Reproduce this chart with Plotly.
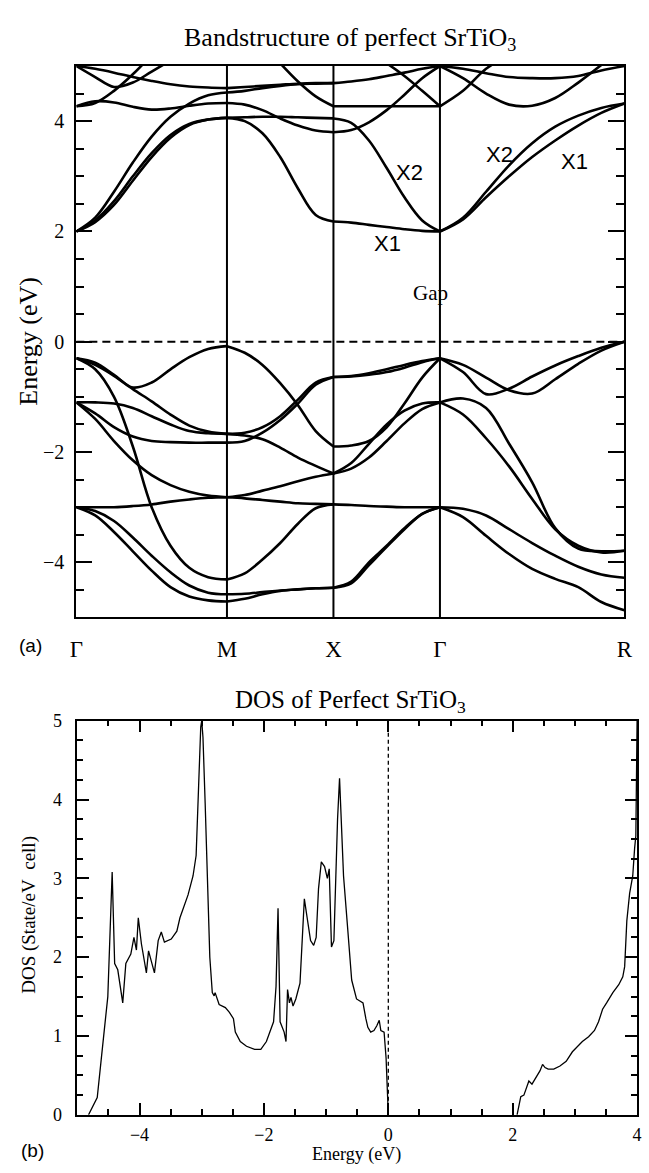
import numpy as np
import plotly.graph_objects as go

# ---------------- band structure data ----------------
sym_labels = ['Γ', 'M', 'X', 'Γ', 'R']
seg_len = [np.sqrt(2), 1.0, 1.0, np.sqrt(3)]     # Γ-M, M-X, X-Γ, Γ-R (units of π/a)
seg_pts = [9, 7, 7, 9]

# valence bands (eV), one list per band, sampled evenly along each segment
vb_GM = [
    [-0.30, -0.38, -0.60, -0.83, -0.74, -0.50, -0.28, -0.13, -0.08],
    [-0.30, -0.42, -0.62, -0.86, -1.08, -1.32, -1.52, -1.63, -1.67],
    [-0.30, -0.50, -1.00, -1.90, -3.00, -3.70, -4.10, -4.27, -4.31],
    [-1.10, -1.10, -1.12, -1.20, -1.35, -1.50, -1.62, -1.66, -1.67],
    [-1.10, -1.30, -1.55, -1.72, -1.80, -1.82, -1.83, -1.83, -1.83],
    [-1.10, -1.40, -1.80, -2.15, -2.42, -2.60, -2.72, -2.79, -2.82],
    [-3.00, -3.00, -3.00, -2.98, -2.95, -2.90, -2.86, -2.83, -2.82],
    [-3.00, -3.07, -3.25, -3.55, -3.88, -4.18, -4.42, -4.55, -4.58],
    [-3.00, -3.15, -3.45, -3.80, -4.15, -4.45, -4.62, -4.69, -4.71],
]
vb_MX = [
    [-0.08, -0.20, -0.42, -0.75, -1.15, -1.62, -1.90],
    [-1.67, -1.65, -1.55, -1.35, -1.05, -0.74, -0.64],
    [-1.83, -1.80, -1.65, -1.42, -1.12, -0.78, -0.64],
    [-1.67, -1.70, -1.77, -1.92, -2.10, -2.25, -2.39],
    [-2.82, -2.78, -2.70, -2.62, -2.53, -2.45, -2.39],
    [-2.82, -2.84, -2.87, -2.90, -2.93, -2.94, -2.95],
    [-4.31, -4.20, -3.95, -3.65, -3.30, -3.02, -2.95],
    [-4.58, -4.57, -4.54, -4.51, -4.49, -4.47, -4.46],
    [-4.71, -4.66, -4.58, -4.52, -4.49, -4.47, -4.46],
]
vb_XG = [
    [-0.64, -0.62, -0.57, -0.50, -0.42, -0.35, -0.30],
    [-0.64, -0.63, -0.60, -0.55, -0.47, -0.37, -0.30],
    [-1.90, -1.88, -1.80, -1.55, -1.12, -0.65, -0.30],
    [-2.39, -2.30, -2.10, -1.80, -1.48, -1.22, -1.10],
    [-2.39, -2.20, -1.85, -1.50, -1.25, -1.12, -1.10],
    [-2.95, -2.96, -2.98, -2.99, -3.00, -3.00, -3.00],
    [-4.46, -4.35, -4.00, -3.70, -3.38, -3.12, -3.00],
    [-4.46, -4.38, -4.05, -3.72, -3.40, -3.12, -3.00],
]
vb_GR = [
    [-0.30, -0.42, -0.65, -0.88, -0.94, -0.68, -0.40, -0.16, 0.00],
    [-0.30, -0.55, -0.95, -0.85, -0.63, -0.43, -0.26, -0.11, 0.00],
    [-1.10, -1.03, -1.20, -1.85, -2.55, -3.38, -3.75, -3.80, -3.79],
    [-1.10, -1.32, -1.75, -2.26, -2.85, -3.40, -3.70, -3.82, -3.79],
    [-3.00, -3.03, -3.15, -3.40, -3.65, -3.88, -4.08, -4.22, -4.28],
    [-3.00, -3.18, -3.52, -3.85, -4.12, -4.30, -4.45, -4.72, -4.87],
]

# conduction bands (eV)
cb_GM = [
    [2.00, 2.20, 2.55, 3.00, 3.42, 3.75, 3.95, 4.03, 4.06],
    [2.00, 2.17, 2.48, 2.92, 3.35, 3.70, 3.93, 4.03, 4.06],
    [2.00, 2.25, 2.72, 3.25, 3.72, 4.08, 4.32, 4.47, 4.52],
    [4.27, 4.33, 4.55, 4.85, 5.20, None, None, None, None],
    [4.27, 4.36, 4.34, 4.26, 4.21, 4.23, 4.28, 4.32, 4.33],
    [5.00, 4.95, 4.88, 4.80, 4.73, 4.67, 4.63, 4.61, 4.60],
    [5.00, 4.80, 4.62, 4.70, 4.90, 5.10, None, None, None],
]
cb_MX = [
    [4.06, 4.07, 4.08, 4.08, 4.07, 4.06, 4.05],
    [4.06, 4.00, 3.78, 3.35, 2.78, 2.30, 2.18],
    [4.33, 4.30, 4.20, 4.05, 3.92, 3.83, 3.80],
    [4.52, 4.55, 4.60, 4.64, 4.67, 4.68, 4.69],
    [4.60, 4.62, 4.64, 4.66, 4.68, 4.69, 4.69],
    [None, None, None, 5.05, 4.72, 4.45, 4.27],
]
cb_XG = [
    [2.18, 2.16, 2.12, 2.08, 2.04, 2.01, 2.00],
    [4.05, 3.97, 3.65, 3.15, 2.62, 2.20, 2.00],
    [3.80, 3.84, 3.98, 4.20, 4.48, 4.78, 5.00],
    [4.27, 4.27, 4.27, 4.27, 4.27, 4.27, 4.27],
    [4.69, 4.72, 4.76, 4.82, 4.88, 4.95, 5.00],
    [None, None, None, 5.05, 4.82, 4.55, 4.27],
]
cb_GR = [
    [2.00, 2.25, 2.72, 3.20, 3.60, 3.90, 4.10, 4.24, 4.32],
    [2.00, 2.22, 2.62, 3.00, 3.35, 3.65, 3.92, 4.15, 4.32],
    [4.27, 4.55, 4.95, 5.20, None, None, None, None, None],
    [5.00, 4.78, 4.50, 4.30, 4.28, 4.42, 4.70, 5.02, None],
    [5.00, 4.95, 4.87, 4.80, 4.78, 4.78, 4.82, 4.92, 5.00],
]

# ---------------- DOS data ----------------
dos_vb_E = [-4.82, -4.68, -4.57, -4.51, -4.44, -4.40, -4.35, -4.27, -4.22, -4.14,
            -4.09, -4.05, -4.02, -3.97, -3.89, -3.855, -3.76, -3.70, -3.65, -3.60,
            -3.49, -3.40, -3.35, -3.22, -3.14, -3.09, -3.05, -3.016, -3.00, -2.98,
            -2.945, -2.91, -2.87, -2.83, -2.80, -2.785, -2.72, -2.62, -2.555, -2.49,
            -2.46, -2.38, -2.28, -2.15, -2.05, -1.96, -1.89, -1.845, -1.805, -1.773,
            -1.74, -1.675, -1.645, -1.62, -1.59, -1.565, -1.532, -1.487, -1.42, -1.35,
            -1.305, -1.25, -1.20, -1.16, -1.122, -1.077, -1.025, -0.98, -0.95, -0.914,
            -0.875, -0.85, -0.816, -0.784, -0.751, -0.72, -0.654, -0.589, -0.511, -0.446,
            -0.407, -0.361, -0.329, -0.283, -0.231, -0.185, -0.146, -0.120, -0.068, -0.036,
            -0.003, 0.0]
dos_vb = [0.0, 0.22, 1.05, 1.50, 3.08, 1.92, 1.84, 1.42, 1.92, 2.04,
          2.25, 2.09, 2.50, 2.17, 1.80, 2.08, 1.80, 2.21, 2.32, 2.19,
          2.23, 2.33, 2.50, 2.79, 3.03, 3.29, 4.17, 4.92, 5.00, 4.79,
          3.96, 2.96, 2.00, 1.55, 1.51, 1.55, 1.40, 1.36, 1.30, 1.22,
          1.05, 0.93, 0.87, 0.83, 0.83, 0.93, 1.07, 1.18, 1.63, 2.62,
          1.18, 1.05, 0.93, 1.59, 1.42, 1.49, 1.38, 1.47, 1.67, 2.74,
          2.50, 2.21, 2.15, 2.25, 2.87, 3.21, 3.15, 3.00, 3.12, 2.13,
          2.21, 3.00, 3.75, 4.27, 3.71, 3.03, 2.37, 1.71, 1.47, 1.44,
          1.42, 1.22, 1.11, 1.05, 1.07, 1.13, 1.20, 1.07, 1.05, 0.72,
          0.14, 0.0]
dos_cb_E = [2.07, 2.13, 2.18, 2.21, 2.26, 2.31, 2.37, 2.44, 2.48, 2.52,
            2.57, 2.66, 2.76, 2.86, 2.96, 3.055, 3.12, 3.22, 3.315, 3.38,
            3.445, 3.51, 3.61, 3.705, 3.77, 3.80, 3.835, 3.88, 3.93, 3.96,
            3.98, 4.0]
dos_cb = [0.0, 0.23, 0.25, 0.31, 0.43, 0.39, 0.47, 0.56, 0.64, 0.60,
          0.58, 0.58, 0.62, 0.68, 0.80, 0.87, 0.93, 0.99, 1.07, 1.18,
          1.34, 1.42, 1.55, 1.65, 1.75, 1.88, 2.46, 2.81, 3.03, 3.38,
          3.54, 5.0]

SERIF = "Liberation Serif, Times New Roman, serif"
SANS = "Liberation Sans, Arial, sans-serif"
W, H = 649, 1173

sym_k = np.concatenate([[0.0], np.cumsum(seg_len)])

fig = go.Figure()
band_style = dict(color='black', width=2.6, shape='spline', smoothing=1.0)
segments = [(vb_GM, cb_GM), (vb_MX, cb_MX), (vb_XG, cb_XG), (vb_GR, cb_GR)]
for i, (vbs, cbs) in enumerate(segments):
    kk = np.linspace(sym_k[i], sym_k[i + 1], seg_pts[i])
    for band in vbs + cbs:
        fig.add_trace(go.Scatter(x=kk, y=band, mode='lines', line=band_style,
                                 xaxis='x', yaxis='y', showlegend=False,
                                 hoverinfo='skip', connectgaps=False))

dos_style = dict(color='black', width=1.3)
fig.add_trace(go.Scatter(x=dos_vb_E, y=dos_vb, mode='lines', line=dos_style,
                         xaxis='x2', yaxis='y2', showlegend=False))
fig.add_trace(go.Scatter(x=dos_cb_E, y=dos_cb, mode='lines', line=dos_style,
                         xaxis='x2', yaxis='y2', showlegend=False))

def px(x):
    return x / W

def py(y):
    return 1 - y / H

shapes = []
for kv in sym_k[1:-1]:
    shapes.append(dict(type='line', xref='x', yref='y domain', x0=kv, x1=kv, y0=0, y1=1,
                       line=dict(color='black', width=2)))
shapes.append(dict(type='line', xref='x domain', yref='y', x0=0, x1=1, y0=0, y1=0,
                   line=dict(color='black', width=2, dash='8px,5px')))
shapes.append(dict(type='line', xref='x2', yref='y2 domain', x0=0, x1=0, y0=0, y1=1,
                   line=dict(color='black', width=1.3, dash='4px,3px')))

ann = []
def text(x, y, s, size, family=SERIF, angle=0):
    ann.append(dict(x=px(x), y=py(y), xref='paper', yref='paper', text=s,
                    showarrow=False, xanchor='center', yanchor='middle',
                    textangle=angle, font=dict(family=family, size=size, color='black')))

text(351, 30, 'Bandstructure of perfect SrTiO<sub>3</sub>', 26)
text(352, 703, 'DOS of Perfect SrTiO<sub>3</sub>', 25)
text(22, 337, 'Energy (eV)', 26, angle=-90)
text(23, 920, 'DOS (State/eV&nbsp;&nbsp;cell)', 19, angle=-90)
text(358, 1164, 'Energy (eV)', 18)
text(24, 647, '(a)', 19, SANS)
text(26, 1160, '(b)', 19, SANS)
text(412, 165, 'X2', 22, SANS)
text(504, 147, 'X2', 22, SANS)
text(581, 154, 'X1', 22, SANS)
text(389, 238, 'X1', 22, SANS)
text(434, 288, 'Gap', 21)

axis_common = dict(showgrid=False, zeroline=False, showline=True, linecolor='black',
                   mirror='ticks', ticks='inside', tickcolor='black')

fig.update_layout(
    width=W, height=H, margin=dict(l=0, r=0, t=0, b=0),
    paper_bgcolor='white', plot_bgcolor='white', showlegend=False,
    shapes=shapes, annotations=ann,
    xaxis=dict(domain=[px(71), px(632)], range=[0, sym_k[-1]], anchor='y',
               showgrid=False, zeroline=False, showline=True, linecolor='black',
               linewidth=2, mirror=True, ticks='', tickmode='array',
               tickvals=list(sym_k), ticktext=sym_labels, ticklabelstandoff=10,
               tickfont=dict(family=SERIF, size=23, color='black')),
    yaxis=dict(domain=[py(618), py(57)], range=[-5, 5], anchor='x',
               tickmode='linear', tick0=0, dtick=2, ticklen=16, tickwidth=2,
               linewidth=2, ticklabelstandoff=6,
               minor=dict(dtick=0.5, tick0=0, ticklen=8, tickwidth=2, ticks='inside',
                          tickcolor='black'),
               tickfont=dict(family=SERIF, size=20, color='black'), **axis_common),
    xaxis2=dict(domain=[px(72), px(645)], range=[-5, 4], anchor='y2',
                tickmode='linear', tick0=0, dtick=2, ticklen=12, tickwidth=1.5,
                linewidth=1.5, ticklabelstandoff=3,
                minor=dict(dtick=0.5, tick0=0, ticklen=6, tickwidth=1.5, ticks='inside',
                           tickcolor='black'),
                tickfont=dict(family=SERIF, size=18, color='black'), **axis_common),
    yaxis2=dict(domain=[py(1124), py(723)], range=[0, 5], anchor='x2',
                tickmode='linear', tick0=0, dtick=1, ticklen=12, tickwidth=1.5,
                linewidth=1.5, ticklabelstandoff=10,
                minor=dict(dtick=0.25, tick0=0, ticklen=6, tickwidth=1.5, ticks='inside',
                           tickcolor='black'),
                tickfont=dict(family=SERIF, size=18, color='black'), **axis_common),
)

# remove the page's default body margin so the 649x1173 figure fills the window exactly
fig.write_html("out.html",
               config={'displayModeBar': False},
               post_script="document.body.style.margin='0px';"
                           "document.body.style.overflow='hidden';")
